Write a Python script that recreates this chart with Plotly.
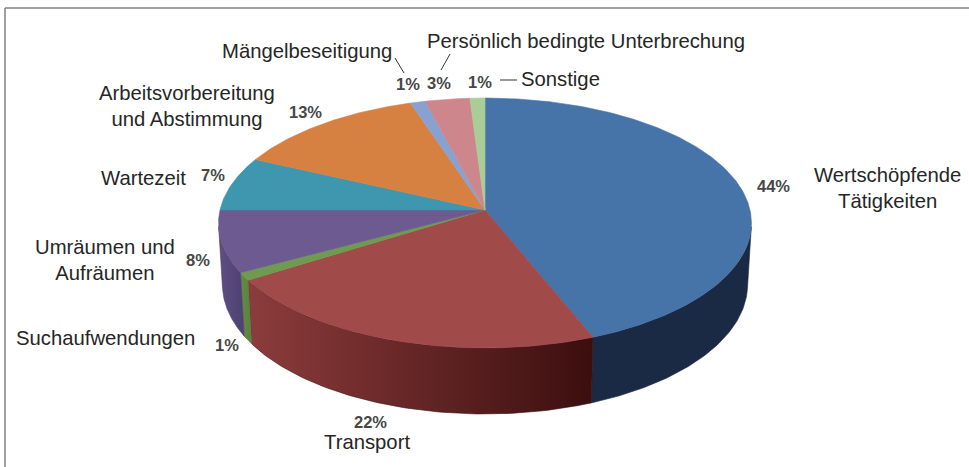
import numpy as np
import plotly.graph_objects as go

# ---------------- data ----------------
categories = ["Wertschöpfende Tätigkeiten", "Transport", "Suchaufwendungen",
              "Umräumen und Aufräumen", "Wartezeit",
              "Arbeitsvorbereitung und Abstimmung", "Mängelbeseitigung",
              "Persönlich bedingte Unterbrechung", "Sonstige"]
values = [44, 22, 1, 8, 7, 13, 1, 3, 1]
label_lines = ["Wertschöpfende<br>Tätigkeiten", "Transport", "Suchaufwendungen",
               "Umräumen und<br>Aufräumen", "Wartezeit",
               "Arbeitsvorbereitung<br>und Abstimmung", "Mängelbeseitigung",
               "Persönlich bedingte Unterbrechung", "Sonstige"]

# ---------------- styles ----------------
top_colors = ["#4673A8", "#A04A4A", "#6E9B50", "#6C5A91", "#3E96AF",
              "#D68042", "#87A2D2", "#CD878C", "#A8CD96"]
side_colors = [["#1B2A44", "#1B2A44"], ["#8C3C3C", "#3C0E0E"], ["#648C44", "#5A8040"],
               ["#5E4F84", "#4E4070"], ["#2E7A90", "#2E7A90"], ["#B0662E", "#B0662E"],
               ["#6A84B0", "#6A84B0"], ["#A86C70", "#A86C70"], ["#88AA78", "#88AA78"]]
# label positions (pixels) for category labels and percentage labels
cat_pos = [(887, 188), (367, 442), (105, 338), (105, 260), (143, 178),
           (187, 106), (307, 51), (586, 41), (560, 79)]
pct_pos = [(773, 186), (370, 422), (227, 345), (198, 260), (213, 175),
           (305, 112), (408, 84), (439, 83), (480, 82)]

W, Hh = 969, 467
CX, CY = 485, 210
D = 8.5
PHI = np.radians(27.8)
F = 265 * D
TH = 0.265  # thickness


def proj(theta, height):
    X = np.sin(theta)
    Z = np.cos(theta)
    depth = D + Z * np.cos(PHI) - height * np.sin(PHI)
    sx = CX + F * X / depth
    sy = CY - F * (height * np.cos(PHI) + Z * np.sin(PHI)) / depth
    return sx, sy


total = float(sum(values))
bounds = np.concatenate([[0], np.cumsum(values)]) / total * 2 * np.pi

fig = go.Figure()

# visible side range (front-facing part of cylinder)
cos_lim = -1.0 / (D * np.cos(PHI))
vis_a = np.arccos(cos_lim)
vis_b = 2 * np.pi - vis_a

# side faces
for i in range(len(values)):
    a0, a1 = bounds[i], bounds[i + 1]
    s0, s1 = max(a0, vis_a), min(a1, vis_b)
    if s1 <= s0:
        continue
    th = np.linspace(s0, s1, 80)
    xt, yt = proj(th, 0.0)
    xb, yb = proj(th[::-1], -TH)
    xs = np.concatenate([xt, xb, xt[:1]])
    ys = np.concatenate([yt, yb, yt[:1]])
    c0, c1 = side_colors[i]
    fig.add_trace(go.Scatter(
        x=xs, y=ys, mode="lines", fill="toself",
        line=dict(width=0.6, color=c1),
        fillcolor=c0,
        fillgradient=dict(type="horizontal", colorscale=[[0, c0], [1, c1]]),
        hoverinfo="skip", showlegend=False))

# top faces
for i in range(len(values)):
    a0, a1 = bounds[i], bounds[i + 1]
    th = np.linspace(a0, a1, max(4, int(values[i] * 6)))
    xt, yt = proj(th, 0.0)
    xs = np.concatenate([[CX], xt, [CX]])
    ys = np.concatenate([[CY], yt, [CY]])
    fig.add_trace(go.Scatter(
        x=xs, y=ys, mode="lines", fill="toself",
        line=dict(width=0.6, color=top_colors[i]),
        fillcolor=top_colors[i],
        hoverinfo="skip", showlegend=False,
        name=categories[i]))

annotations = []
FONT = "Liberation Sans, Arial, sans-serif"
for i in range(len(values)):
    annotations.append(dict(
        x=cat_pos[i][0], y=cat_pos[i][1], xref="x", yref="y",
        text=label_lines[i], showarrow=False, xanchor="center", yanchor="middle",
        align="center", font=dict(family=FONT, size=20.3, color="#262626")))
    annotations.append(dict(
        x=pct_pos[i][0], y=pct_pos[i][1], xref="x", yref="y",
        text="<b>%d%%</b>" % values[i], showarrow=False, xanchor="center",
        yanchor="middle", font=dict(family=FONT, size=16.5, color="#474747")))

shapes = [
    # frame: top and left edges
    dict(type="line", xref="x", yref="y", x0=5, y0=8, x1=W, y1=8,
         line=dict(color="#808080", width=1.5)),
    dict(type="line", xref="x", yref="y", x0=5, y0=8, x1=5, y1=Hh,
         line=dict(color="#808080", width=1.5)),
    # leader lines
    dict(type="line", xref="x", yref="y", x0=395, y0=58, x1=404, y1=73,
         line=dict(color="#333333", width=1)),
    dict(type="line", xref="x", yref="y", x0=450, y0=54, x1=441, y1=70,
         line=dict(color="#333333", width=1)),
    dict(type="line", xref="x", yref="y", x0=500, y0=80, x1=517, y1=80,
         line=dict(color="#333333", width=1)),
]

fig.update_layout(
    width=W, height=Hh, autosize=False,
    margin=dict(l=0, r=0, t=0, b=0),
    paper_bgcolor="white", plot_bgcolor="white",
    xaxis=dict(range=[0, W], visible=False, fixedrange=True),
    yaxis=dict(range=[Hh, 0], visible=False, fixedrange=True),
    annotations=annotations, shapes=shapes, showlegend=False)

fig.write_html("out.html", config={"displayModeBar": False},
               post_script="document.body.style.margin='0';document.body.style.overflow='hidden';")
